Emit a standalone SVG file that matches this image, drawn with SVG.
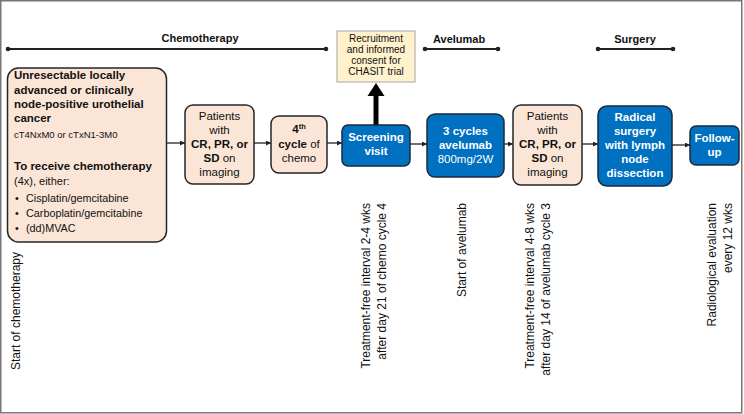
<svg xmlns="http://www.w3.org/2000/svg" width="744" height="414" viewBox="0 0 744 414">
<style>
text{font-family:"Liberation Sans",Arial,sans-serif;fill:#111}
.b{font-weight:bold}
.n{font-size:11.5px}
.c{text-anchor:middle}
.w{fill:#fff}
.peach{fill:#fbe5d6;stroke:#262626;stroke-width:1.5}
.blue{fill:#0070c0;stroke:#1a2a40;stroke-width:1.5}
.tl{stroke:#222;stroke-width:2}
.rot{font-size:12px;text-anchor:end}
.con{stroke:#222;stroke-width:1.3;fill:none}
</style>
<defs>
<marker id="ah" viewBox="0 0 8 8" refX="8" refY="4" markerWidth="5" markerHeight="5" orient="auto" markerUnits="userSpaceOnUse">
<path d="M0,0 L8,4 L0,8 z" fill="#222"/>
</marker>
</defs>
<rect x="0.75" y="0.75" width="741" height="412" fill="#fff" stroke="#777" stroke-width="1.5"/>

<g id="timelines">
<line class="tl" x1="8" y1="49" x2="326" y2="49"/><circle cx="8" cy="49" r="2.3" fill="#222"/><circle cx="326" cy="49" r="2.3" fill="#222"/>
<text class="b c" x="200" y="42" font-size="11">Chemotherapy</text>
<line class="tl" x1="425" y1="49" x2="498" y2="49"/><circle cx="425" cy="49" r="2.3" fill="#222"/><circle cx="498" cy="49" r="2.3" fill="#222"/>
<text class="b" x="433" y="43" font-size="11">Avelumab</text>
<line class="tl" x1="598" y1="49" x2="673" y2="49"/><circle cx="598" cy="49" r="2.3" fill="#222"/><circle cx="673" cy="49" r="2.3" fill="#222"/>
<text class="b c" x="635" y="43" font-size="11">Surgery</text>
</g>

<g id="connectors">
<line class="con" x1="167" y1="143" x2="185" y2="143" marker-end="url(#ah)"/>
<line class="con" x1="254" y1="143" x2="271" y2="143" marker-end="url(#ah)"/>
<line class="con" x1="327" y1="143" x2="342" y2="143" marker-end="url(#ah)"/>
<line class="con" x1="410" y1="144" x2="427" y2="144" marker-end="url(#ah)"/>
<line class="con" x1="504" y1="144" x2="513" y2="144" marker-end="url(#ah)"/>
<line class="con" x1="582" y1="144" x2="598" y2="144" marker-end="url(#ah)"/>
<line class="con" x1="672" y1="145" x2="690" y2="145" marker-end="url(#ah)"/>
<rect x="373.5" y="94" width="5" height="31" fill="#000"/>
<polygon points="367.5,96 384.5,96 376,83" fill="#000"/>
</g>

<g id="recruitment">
<rect x="337" y="31" width="78" height="51" fill="#fff2cc" stroke="#a6a6a6" stroke-width="1"/>
<text class="c" font-size="10" x="376"><tspan x="376" y="42">Recruitment</tspan><tspan x="376" y="53">and informed</tspan><tspan x="376" y="64">consent for</tspan><tspan x="376" y="75">CHASIT trial</tspan></text>
</g>

<g id="eligibility">
<rect class="peach" x="7.5" y="68" width="159" height="174" rx="11"/>
<text class="n" x="14">
<tspan class="b" x="14" y="79">Unresectable locally</tspan>
<tspan class="b" x="14" y="94">advanced or clinically</tspan>
<tspan class="b" x="14" y="108">node-positive urothelial</tspan>
<tspan class="b" x="14" y="122">cancer</tspan>
<tspan x="14" y="138" font-size="9.5">cT4NxM0 or cTxN1-3M0</tspan>
<tspan class="b" x="14" y="170">To receive chemotherapy</tspan>
<tspan x="14" y="185" font-size="11">(4x), either:</tspan>
<tspan x="15" y="202" font-size="10.8">•</tspan><tspan x="26" y="202" font-size="10.8">Cisplatin/gemcitabine</tspan>
<tspan x="15" y="217" font-size="10.8">•</tspan><tspan x="26" y="217" font-size="10.8">Carboplatin/gemcitabine</tspan>
<tspan x="15" y="232" font-size="10.8">•</tspan><tspan x="26" y="232" font-size="10.8">(dd)MVAC</tspan>
</text>
</g>

<g id="response1">
<rect class="peach" x="185" y="105" width="69" height="79" rx="8"/>
<text class="n c"><tspan x="219.5" y="120">Patients</tspan><tspan x="219.5" y="134">with</tspan><tspan x="219.5" y="148" class="b">CR, PR, or</tspan><tspan x="219.5" y="162"><tspan class="b">SD</tspan> on</tspan><tspan x="219.5" y="176">imaging</tspan></text>
</g>

<g id="cycle4">
<rect class="peach" x="271" y="116" width="56" height="57" rx="8"/>
<text class="n c"><tspan x="299" y="133" class="b">4<tspan font-size="7.5" dy="-4">th</tspan></tspan><tspan x="299" y="148"><tspan class="b">cycle</tspan> of</tspan><tspan x="299" y="162">chemo</tspan></text>
</g>

<g id="screening">
<rect class="blue" x="342" y="125" width="68" height="41" rx="6"/>
<text class="n c b w"><tspan x="376" y="141">Screening</tspan><tspan x="376" y="155">visit</tspan></text>
</g>

<g id="avelumab">
<rect class="blue" x="427" y="114" width="77" height="63" rx="8"/>
<text class="n c w"><tspan x="465.5" y="135" class="b">3 cycles</tspan><tspan x="465.5" y="149" class="b">avelumab</tspan><tspan x="465.5" y="163">800mg/2W</tspan></text>
</g>

<g id="response2">
<rect class="peach" x="513" y="105" width="69" height="80" rx="8"/>
<text class="n c"><tspan x="547.5" y="120">Patients</tspan><tspan x="547.5" y="134">with</tspan><tspan x="547.5" y="148" class="b">CR, PR, or</tspan><tspan x="547.5" y="162"><tspan class="b">SD</tspan> on</tspan><tspan x="547.5" y="176">imaging</tspan></text>
</g>

<g id="surgery">
<rect class="blue" x="598" y="106" width="74" height="80" rx="9"/>
<text class="n c b w"><tspan x="635" y="121">Radical</tspan><tspan x="635" y="135">surgery</tspan><tspan x="635" y="149">with lymph</tspan><tspan x="635" y="163">node</tspan><tspan x="635" y="177">dissection</tspan></text>
</g>

<g id="followup">
<rect class="blue" x="690" y="126" width="49" height="39" rx="6"/>
<text class="n c b w"><tspan x="714.5" y="142">Follow-</tspan><tspan x="714.5" y="156">up</tspan></text>
</g>

<g id="annotations">
<text class="rot" transform="translate(20,252) rotate(-90)">Start of chemotherapy</text>
<text class="rot" transform="translate(370,203) rotate(-90)">Treatment-free interval 2-4 wks</text>
<text class="rot" transform="translate(386,203) rotate(-90)">after day 21 of chemo cycle 4</text>
<text class="rot" transform="translate(466,203) rotate(-90)">Start of avelumab</text>
<text class="rot" transform="translate(534,203) rotate(-90)">Treatment-free interval 4-8 wks</text>
<text class="rot" transform="translate(550,203) rotate(-90)">after day 14 of avelumab cycle 3</text>
<text class="rot" transform="translate(716,203) rotate(-90)">Radiological evaluation</text>
<text class="rot" transform="translate(732,203) rotate(-90)">every 12 wks</text>
</g>
</svg>
